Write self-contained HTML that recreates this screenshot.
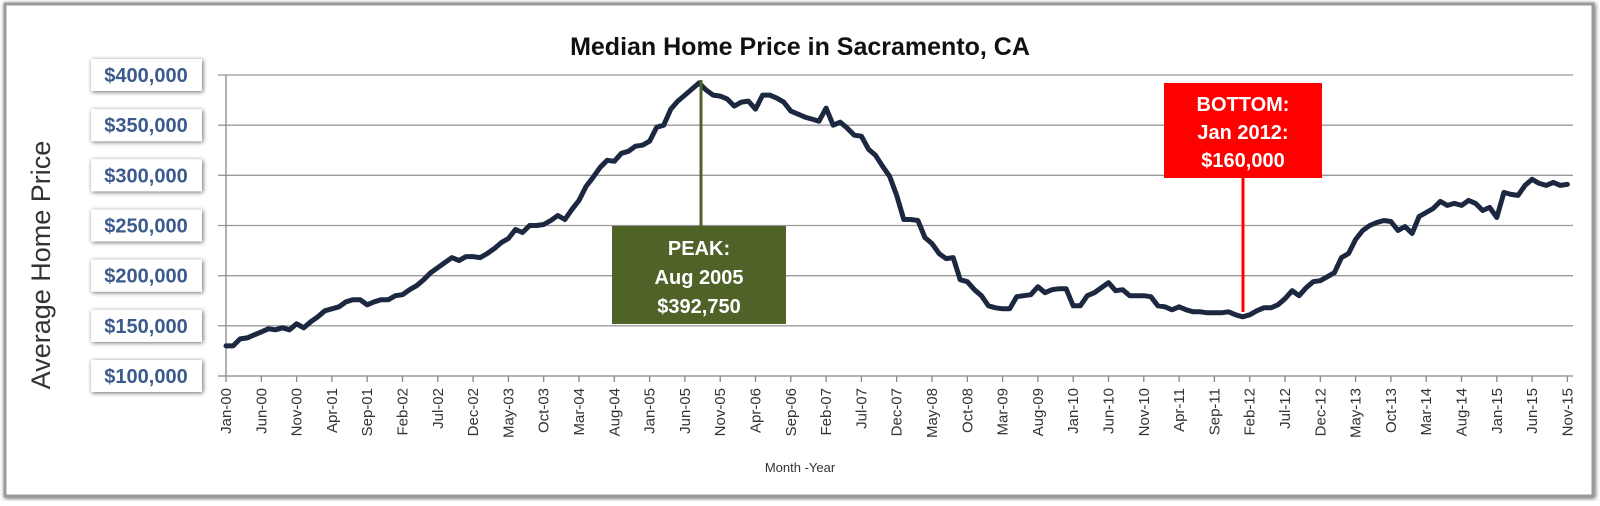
<!DOCTYPE html>
<html><head><meta charset="utf-8"><style>
body{margin:0;background:#fff;width:1600px;height:501px;overflow:hidden;font-family:"Liberation Sans",sans-serif}
</style></head><body>
<svg id="chart" width="1600" height="501" viewBox="0 0 1600 501" xmlns="http://www.w3.org/2000/svg">
<defs><filter id="sh" x="-20%" y="-30%" width="140%" height="160%"><feGaussianBlur in="SourceAlpha" stdDeviation="2.5"/><feOffset dx="1" dy="1"/><feComponentTransfer><feFuncA type="linear" slope="0.6"/></feComponentTransfer><feMerge><feMergeNode/><feMergeNode in="SourceGraphic"/></feMerge></filter></defs>
<rect x="5" y="4" width="1588" height="492" fill="#fff" stroke="#9a9a9a" stroke-width="3" filter="url(#sh)"/>
<text x="800" y="55" text-anchor="middle" font-size="25" font-weight="bold" fill="#111">Median Home Price in Sacramento, CA</text>
<text transform="translate(50,265) rotate(-90)" text-anchor="middle" font-size="27" fill="#333">Average Home Price</text>
<text x="800" y="472" text-anchor="middle" font-size="13" fill="#333">Month -Year</text>
<g id="grid"></g><g id="yl"></g><g id="xl"></g><g id="ser"></g>
<g>
<line x1="701" y1="80" x2="701" y2="226" stroke="#4f6228" stroke-width="3"/>
<rect x="612" y="226" width="174" height="98" fill="#4f6228"/>
<text x="699" y="255" text-anchor="middle" font-size="20" font-weight="bold" fill="#fff">PEAK:</text>
<text x="699" y="284" text-anchor="middle" font-size="20" font-weight="bold" fill="#fff">Aug 2005</text>
<text x="699" y="313" text-anchor="middle" font-size="20" font-weight="bold" fill="#fff">$392,750</text>
</g>
<g>
<line x1="1243" y1="178" x2="1243" y2="312" stroke="#ff0000" stroke-width="3"/>
<rect x="1164" y="83" width="158" height="95" fill="#ff0000"/>
<text x="1243" y="111" text-anchor="middle" font-size="20" font-weight="bold" fill="#fff">BOTTOM:</text>
<text x="1243" y="139" text-anchor="middle" font-size="20" font-weight="bold" fill="#fff">Jan 2012:</text>
<text x="1243" y="167" text-anchor="middle" font-size="20" font-weight="bold" fill="#fff">$160,000</text>
</g>
</svg>
<script>
const prices=[130,130,137,138,141,144,147,146,148,146,152,148,154,159,165,167,169,174,176,176,171,174,176,176,180,181,186,190,196,203,208,213,218,215,219,219,218,222,227,233,237,246,243,250,250,251,255,260,256,266,275,289,298,308,315,314,322,324,329,330,334,348,350,366,374,380,386,392,385,380,379,376,369,373,374,366,380,380,377,373,364,361,358,356,354,367,350,353,347,340,339,326,320,309,299,280,256,256,255,238,232,222,217,218,196,194,186,180,170,168,167,167,179,180,181,189,183,186,187,187,170,170,180,183,188,193,185,186,180,180,180,179,170,169,166,169,166,164,164,163,163,163,164,161,159,161,165,168,168,171,177,185,180,188,194,195,199,203,218,222,236,245,250,253,255,254,245,249,242,259,263,267,274,270,272,270,275,272,265,268,258,283,281,280,290,296,292,290,293,290,291];
const yTicks=[100,150,200,250,300,350,400];
const yTickLabels=["$100,000","$150,000","$200,000","$250,000","$300,000","$350,000","$400,000"];
const xTickLabels=["Jan-00","Jun-00","Nov-00","Apr-01","Sep-01","Feb-02","Jul-02","Dec-02","May-03","Oct-03","Mar-04","Aug-04","Jan-05","Jun-05","Nov-05","Apr-06","Sep-06","Feb-07","Jul-07","Dec-07","May-08","Oct-08","Mar-09","Aug-09","Jan-10","Jun-10","Nov-10","Apr-11","Sep-11","Feb-12","Jul-12","Dec-12","May-13","Oct-13","Mar-14","Aug-14","Jan-15","Jun-15","Nov-15"];
const tickStep=5;
const NS="http://www.w3.org/2000/svg";
const X0=226,DX=7.06,Y0=75,YMAX=400,YMIN=100,YH=301,XR=1573;
function xs(i){return X0+i*DX;}
function ys(v){return Y0+(YMAX-v)/(YMAX-YMIN)*YH;}
function mk(t,a,p){const e=document.createElementNS(NS,t);for(const k in a)e.setAttribute(k,a[k]);p.appendChild(e);return e;}
const grid=document.getElementById('grid'),yl=document.getElementById('yl'),xl=document.getElementById('xl'),ser=document.getElementById('ser');
yTicks.forEach((v,i)=>{
  const y=ys(v);
  const g=mk('line',{x1:X0-8,x2:XR,y1:y,y2:y,stroke:i===0?'#888':'#999','stroke-width':1.3},grid);
  
  
  const r=mk('rect',{x:91,y:y-16,width:111,height:32,fill:'#fff',filter:'url(#sh)'},yl);
  
  
  const t=mk('text',{x:146,y:y+7,'text-anchor':'middle','font-size':20,'font-weight':'bold',fill:'#3b5b8c'},yl);
  t.textContent=yTickLabels[i];
  
  
});
const ax=mk('line',{x1:X0,x2:X0,y1:Y0,y2:ys(YMIN),stroke:'#888','stroke-width':1.3},grid);


xTickLabels.forEach((lab,i)=>{
  const x=xs(i*tickStep),y=ys(YMIN);
  const tk=mk('line',{x1:x,x2:x,y1:y,y2:y+6,stroke:'#888','stroke-width':1.3},xl);
  
  
  const t=mk('text',{transform:`translate(${x+5},${y+12}) rotate(-90)`,'text-anchor':'end','font-size':15,fill:'#333'},xl);
  t.textContent=lab;
  
  
});
const pts=prices.map((v,i)=>xs(i).toFixed(1)+','+ys(v).toFixed(1)).join(' ');
const pl=mk('polyline',{points:pts,fill:'none',stroke:'#1b2840','stroke-width':5,'stroke-linejoin':'round','stroke-linecap':'round'},ser);


</script>
</body></html>
